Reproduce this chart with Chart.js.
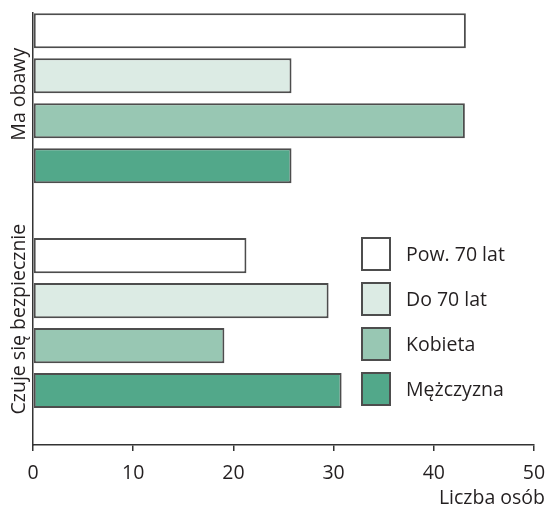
<!DOCTYPE html>
<html>
<head>
<meta charset="utf-8">
<script src="https://cdn.jsdelivr.net/npm/chart.js"></script>
<style>
body{margin:0;background:#fff}
#wrap{position:relative;width:546px;height:507px}
#legend{position:absolute;left:361px;top:231px;font-family:"Open Sans";font-size:19.5px;color:#231f20}
.item{display:flex;align-items:center;height:45px}
.box{width:30px;height:34px;box-sizing:border-box;border:2px solid #4d4d4d;margin-right:15px}
</style>
</head>
<body>
<div id="wrap">
<canvas id="graf" width="546" height="507"></canvas>
<div id="legend"></div>
</div>
<script>
let groups = ["Ma obawy", "Czuje się bezpiecznie"]
let series = ["Pow. 70 lat", "Do 70 lat", "Kobieta", "Mężczyzna"]
let pow70 = [43.2, 21.3]
let do70 = [25.8, 29.5]
let kobieta = [43.1, 19.1]
let mezczyzna = [25.8, 30.8]
let xTicks = [0, 10, 20, 30, 40, 50]
let xTitle = "Liczba osób"

let colors = ["#ffffff", "#dcebe4", "#98c7b3", "#52a88a"]
let values = [pow70, do70, kobieta, mezczyzna]
let textColor = "#231f20"
let font = '"Open Sans"'
let fontSize = 19.5
const graph = document.getElementById('graf')

// group names on the left and axis name, drawn rotated / right aligned
const extraText = {
  id: 'extraText',
  afterDraw(chart){
    const ctx = chart.ctx
    const y = chart.scales.y
    const x = chart.scales.x
    ctx.save()
    ctx.font = fontSize + 'px ' + font
    ctx.fillStyle = textColor
    ctx.textBaseline = 'alphabetic'
    ctx.textAlign = 'center'
    for(let i=0;i<groups.length;i++){
      ctx.save()
      ctx.translate(x.left - 8, y.getPixelForValue(i) - 4)
      ctx.rotate(-Math.PI/2)
      ctx.fillText(groups[i], 0, 0)
      ctx.restore()
    }
    ctx.textAlign = 'right'
    ctx.fillText(xTitle, chart.width - 1, chart.height - 3)
    ctx.restore()
  }
}

let datasets = []
for(let k=0;k<series.length;k++){
  datasets.push({
    label: series[k],
    data: values[k].map((v, i) => ({x: v, y: i})),
    backgroundColor: colors[k],
    borderColor: "#4d4d4d",
    borderWidth: 2,
    borderSkipped: false,
    categoryPercentage: 0.8,
    barPercentage: 0.78
  })
}

const chart = new Chart(graph, {
  type: "bar",
  data: {datasets: datasets},
  plugins: [extraText],
  options: {
    indexAxis: 'y',
    responsive: false,
    animation: false,
    devicePixelRatio: 1,
    layout: {padding: {top: 13, left: 33, right: 5, bottom: 12}},
    plugins: {
      legend: {display: false},
      tooltip: {enabled: false}
    },
    scales: {
      x: {
        type: 'linear',
        min: 0,
        max: 50,
        afterBuildTicks: s => { s.ticks = xTicks.map(v => ({value: v})) },
        afterFit: s => { s.paddingRight = 12; s.height = 50 },
        grid: {drawOnChartArea: false, drawTicks: true, tickLength: 6, color: "#333", lineWidth: 1.5},
        border: {display: true, color: "#333", width: 1.5},
        ticks: {color: textColor, padding: 11, font: {family: font, size: fontSize}, maxRotation: 0}
      },
      y: {
        type: 'linear',
        reverse: true,
        offset: false,
        min: -0.379,
        max: 1.542,
        afterBuildTicks: s => { s.ticks = groups.map((g, i) => ({value: i})) },
        grid: {display: false, drawTicks: false},
        border: {display: true, color: "#333", width: 1.5},
        ticks: {display: false}
      }
    }
  }
})

let legend = document.getElementById('legend')
chart.data.datasets.forEach(ds => {
  let item = document.createElement('div')
  item.className = 'item'
  let box = document.createElement('div')
  box.className = 'box'
  box.style.background = ds.backgroundColor
  let txt = document.createElement('span')
  txt.innerText = ds.label
  item.appendChild(box)
  item.appendChild(txt)
  legend.appendChild(item)
})
</script>
</body>
</html>
